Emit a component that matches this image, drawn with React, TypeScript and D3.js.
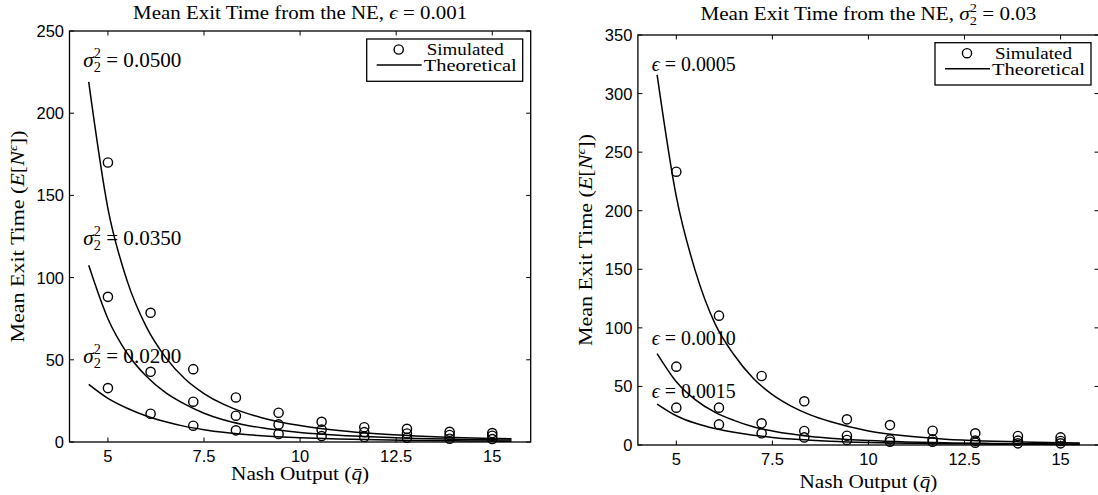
import React from 'react';
import * as d3 from 'd3';

// ---------- data ----------
const nashOutput = [5, 6.11, 7.22, 8.33, 9.44, 10.56, 11.67, 12.78, 13.89, 15];
const curveX = [4.5, 5, 5.5, 6, 6.5, 7, 7.5, 8, 8.5, 9, 10, 11, 12, 13, 14, 15, 15.5];

// left panel: epsilon = 0.001, varying sigma_2^2
const simSigma050 = [170, 78.6, 44.3, 27.1, 17.8, 12.3, 9.0, 8.0, 6.2, 5.4];
const simSigma035 = [88.3, 42.7, 24.5, 16.0, 10.7, 7.5, 6.0, 5.2, 4.3, 3.8];
const simSigma020 = [32.8, 17.2, 9.9, 7.1, 4.9, 3.6, 3.0, 2.6, 2.0, 1.8];
const theoSigma050 = [219, 142, 98, 70, 51.5, 38.5, 29.5, 23, 18.3, 14.8, 10.0, 7.0, 5.0, 3.7, 2.8, 2.2, 2.0];
const theoSigma035 = [107.5, 75, 54, 40, 30, 23, 17.5, 13.5, 10.7, 8.6, 5.8, 4.1, 3.0, 2.2, 1.7, 1.3, 1.2];
const theoSigma020 = [35, 26.5, 20.5, 15.8, 12.3, 9.5, 7.5, 5.9, 4.7, 3.8, 2.6, 1.8, 1.3, 0.95, 0.7, 0.55, 0.5];

// right panel: sigma_2^2 = 0.03, varying epsilon
const simEps0005 = [233.3, 110.4, 58.9, 37.3, 21.9, 17.0, 12.2, 10.0, 7.7, 6.5];
const simEps0010 = [66.9, 31.9, 18.5, 12.0, 7.9, 4.8, 4.8, 3.7, 3.7, 3.4];
const simEps0015 = [31.9, 17.6, 10.0, 6.5, 4.3, 2.8, 2.8, 2.0, 1.4, 1.4];
const theoEps0005 = [316, 212, 148, 104, 77, 57, 43, 33, 25.5, 20, 12, 7.6, 5.0, 3.5, 2.6, 2.0, 1.8];
const theoEps0010 = [78, 54, 38.5, 28, 21, 15.5, 12, 9.3, 7.3, 5.8, 3.8, 2.6, 1.9, 1.4, 1.1, 0.9, 0.8];
const theoEps0015 = [35, 25, 18.5, 14, 10.8, 8.3, 6.5, 5.1, 4.1, 3.3, 2.2, 1.5, 1.1, 0.8, 0.6, 0.5, 0.45];

const xTicks = [5, 7.5, 10, 12.5, 15];
const yTicksLeft = [0, 50, 100, 150, 200, 250];
const yTicksRight = [0, 50, 100, 150, 200, 250, 300, 350];

const sigmaLabels = ['0.0500', '0.0350', '0.0200'];
const epsLabels = ['0.0005', '0.0010', '0.0015'];

const SERIF = "'Liberation Serif', 'Times New Roman', 'DejaVu Serif', serif";
const SANS = "'Liberation Sans', Arial, Helvetica, sans-serif";

function sigmaSq(fs: number) {
  const s = fs * 0.68;
  return [
    <tspan key="s" fontStyle="italic">σ</tspan>,
    <tspan key="b" fontSize={s} dy={fs * 0.25}>2</tspan>,
    <tspan key="p" fontSize={s} dx={-s * 0.5} dy={-fs * 0.7}>2</tspan>,
    <tspan key="r" dy={fs * 0.45}>{'\u00A0= '}</tspan>,
  ];
}

type PanelCfg = {
  x0: number; x1: number; yTop: number; yBottom: number; yMax: number; yTicks: number[];
  title: React.ReactNode; titleY: number; titleLen: number;
  xLabelY: number; yLabelX: number;
  sims: number[][]; theos: number[][];
  annotations: { node: React.ReactNode; x: number; y: number; len: number }[];
  legend: { left: number; top: number };
};

function Panel({ c }: { c: PanelCfg }) {
  const xs = d3.scaleLinear().domain([4, 16]).range([c.x0, c.x1]);
  const ys = d3.scaleLinear().domain([0, c.yMax]).range([c.yBottom, c.yTop]);
  const line = d3
    .line<number>()
    .x((_, i) => xs(curveX[i]))
    .y((d) => ys(d))
    .curve(d3.curveMonotoneX);
  const tl = 4.5;
  const cx = (c.x0 + c.x1) / 2;
  const cy = (c.yTop + c.yBottom) / 2;
  const L = c.legend.left;
  const T = c.legend.top;
  return (
    <g>
      <rect x={c.x0} y={c.yTop} width={c.x1 - c.x0} height={c.yBottom - c.yTop} fill="white" stroke="black" strokeWidth={1.3} />
      {xTicks.map((t) => (
        <g key={'xt' + t}>
          <line x1={xs(t)} x2={xs(t)} y1={c.yBottom} y2={c.yBottom - tl} stroke="black" strokeWidth={1} />
          <line x1={xs(t)} x2={xs(t)} y1={c.yTop} y2={c.yTop + tl} stroke="black" strokeWidth={1} />
          <text x={xs(t)} y={c.yBottom + 20} textAnchor="middle" fontFamily={SANS} fontSize={16.5}>{String(t)}</text>
        </g>
      ))}
      {c.yTicks.map((t) => (
        <g key={'yt' + t}>
          <line x1={c.x0} x2={c.x0 + tl} y1={ys(t)} y2={ys(t)} stroke="black" strokeWidth={1} />
          <line x1={c.x1} x2={c.x1 - tl} y1={ys(t)} y2={ys(t)} stroke="black" strokeWidth={1} />
          <text x={c.x0 - 5.5} y={ys(t)} dy="0.36em" textAnchor="end" fontFamily={SANS} fontSize={16.5}>{String(t)}</text>
        </g>
      ))}
      {c.theos.map((s, i) => (
        <path key={'th' + i} d={line(s) || ''} fill="none" stroke="black" strokeWidth={1.5} />
      ))}
      {c.sims.map((s, i) => (
        <g key={'sim' + i}>
          {s.map((v, j) => (
            <circle key={j} cx={xs(nashOutput[j])} cy={ys(v)} r={4.6} fill="none" stroke="black" strokeWidth={1.4} />
          ))}
        </g>
      ))}
      {c.annotations.map((a, i) => (
        <text key={'an' + i} x={xs(a.x)} y={ys(a.y)} fontFamily={SERIF} fontSize={20} textLength={a.len} lengthAdjust="spacingAndGlyphs">
          {a.node}
        </text>
      ))}
      <text x={cx} y={c.titleY} textAnchor="middle" fontFamily={SERIF} fontSize={18} textLength={c.titleLen} lengthAdjust="spacingAndGlyphs">
        {c.title}
      </text>
      <text x={cx} y={c.xLabelY} textAnchor="middle" fontFamily={SERIF} fontSize={18} textLength={138} lengthAdjust="spacingAndGlyphs">
        Nash Output (<tspan fontStyle="italic">{'q\u0304'}</tspan>)
      </text>
      <text transform={`translate(${c.yLabelX},${cy}) rotate(-90)`} textAnchor="middle" fontFamily={SERIF} fontSize={18} textLength={212} lengthAdjust="spacingAndGlyphs">
        Mean Exit Time (<tspan fontStyle="italic">E</tspan>[<tspan fontStyle="italic">N</tspan>
        <tspan fontStyle="italic" fontSize={12} dy={-7}>ϵ</tspan>
        <tspan dy={7}>])</tspan>
      </text>
      <rect x={L} y={T} width={156} height={42.3} fill="white" stroke="black" strokeWidth={1.3} />
      <circle cx={L + 32} cy={T + 10.5} r={4.6} fill="none" stroke="black" strokeWidth={1.4} />
      <line x1={L + 10} x2={L + 55} y1={T + 26} y2={T + 26} stroke="black" strokeWidth={1.5} />
      <text x={L + 60} y={T + 16} fontFamily={SERIF} fontSize={16} textLength={77} lengthAdjust="spacingAndGlyphs">Simulated</text>
      <text x={L + 57} y={T + 32} fontFamily={SERIF} fontSize={16} textLength={93} lengthAdjust="spacingAndGlyphs">Theoretical</text>
    </g>
  );
}

export default function App() {
  const leftCfg: PanelCfg = {
    x0: 69.5, x1: 530.7, yTop: 31, yBottom: 442, yMax: 250, yTicks: yTicksLeft,
    title: (
      <>
        Mean Exit Time from the NE, <tspan fontStyle="italic">ϵ</tspan> = 0.001
      </>
    ),
    titleY: 18.5, titleLen: 334,
    xLabelY: 480, yLabelX: 24,
    sims: [simSigma050, simSigma035, simSigma020],
    theos: [theoSigma050, theoSigma035, theoSigma020],
    annotations: [
      { node: <>{sigmaSq(20)}{sigmaLabels[0]}</>, x: 4.36, y: 228, len: 98 },
      { node: <>{sigmaSq(20)}{sigmaLabels[1]}</>, x: 4.36, y: 119.7, len: 98 },
      { node: <>{sigmaSq(20)}{sigmaLabels[2]}</>, x: 4.36, y: 47.8, len: 98 },
    ],
    legend: { left: 366.7, top: 39 },
  };
  const rightCfg: PanelCfg = {
    x0: 637.9, x1: 1099, yTop: 35, yBottom: 445, yMax: 350, yTicks: yTicksRight,
    title: (
      <>
        Mean Exit Time from the NE, {sigmaSq(18)}0.03
      </>
    ),
    titleY: 20, titleLen: 336,
    xLabelY: 488, yLabelX: 592,
    sims: [simEps0005, simEps0010, simEps0015],
    theos: [theoEps0005, theoEps0010, theoEps0015],
    annotations: [
      { node: <><tspan fontStyle="italic">ϵ</tspan>{'\u00A0= '}{epsLabels[0]}</>, x: 4.36, y: 319.5, len: 84 },
      { node: <><tspan fontStyle="italic">ϵ</tspan>{'\u00A0= '}{epsLabels[1]}</>, x: 4.36, y: 85.4, len: 84 },
      { node: <><tspan fontStyle="italic">ϵ</tspan>{'\u00A0= '}{epsLabels[2]}</>, x: 4.36, y: 40.4, len: 84 },
    ],
    legend: { left: 935, top: 42.7 },
  };
  return (
    <svg
      width={1098}
      height={495}
      viewBox="0 0 1098 495"
      style={{ position: 'absolute', left: 0, top: 0, display: 'block', background: 'white' }}
    >
      <rect x={0} y={0} width={1098} height={495} fill="white" />
      <Panel c={leftCfg} />
      <Panel c={rightCfg} />
    </svg>
  );
}
